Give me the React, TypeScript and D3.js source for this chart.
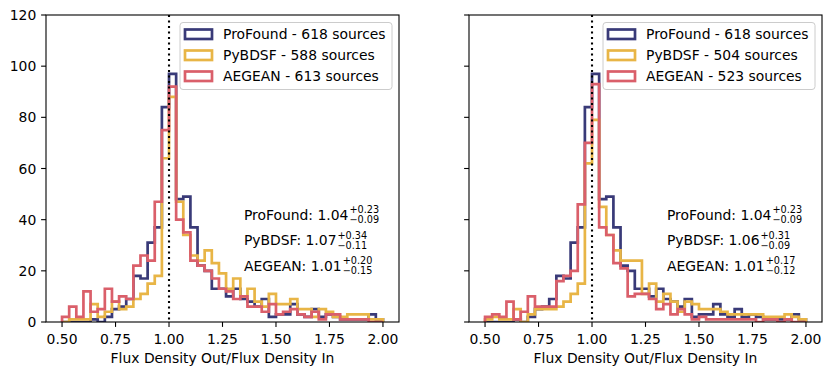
import React, { useEffect, useRef } from "react";
import * as d3 from "d3";

// histogram bins: 45 bins of width 1/30 from 0.5 to 2.0
const binStart = 0.5;
const binWidth = 1 / 30;
const xTicks = [0.5, 0.75, 1.0, 1.25, 1.5, 1.75, 2.0];
const yTicks = [0, 20, 40, 60, 80, 100, 120];

const finders = ["ProFound", "PyBDSF", "AEGEAN"];
const colors = ["#393a78", "#e8b546", "#da5f6a"];

// ProFound is the same catalogue in both panels
const profoundCounts = [0, 0, 0, 0, 1, 0, 2, 5, 6, 9, 18, 17, 31, 37, 84, 97, 48, 49, 37, 22, 20, 13, 13, 10, 13, 9, 8, 6, 9, 2, 3, 3, 7, 3, 2, 5, 2, 3, 2, 1, 1, 1, 1, 3, 1];
const pybdsfLeftCounts = [0, 1, 1, 1, 7, 2, 4, 8, 5, 6, 9, 11, 15, 18, 64, 88, 47, 34, 26, 24, 28, 23, 19, 13, 17, 10, 13, 8, 6, 11, 7, 7, 9, 5, 5, 2, 5, 4, 2, 2, 3, 3, 3, 1, 1];
const aegeanLeftCounts = [2, 6, 2, 12, 4, 5, 13, 8, 10, 9, 22, 26, 24, 47, 75, 92, 40, 35, 24, 22, 20, 17, 13, 12, 9, 10, 6, 6, 4, 7, 3, 4, 5, 3, 2, 4, 1, 3, 3, 1, 1, 1, 1, 0, 0];
const pybdsfRightCounts = [1, 2, 1, 1, 5, 0, 3, 5, 5, 5, 6, 8, 11, 15, 62, 79, 45, 34, 28, 24, 24, 24, 11, 15, 8, 11, 8, 4, 8, 7, 5, 5, 5, 4, 3, 3, 3, 3, 3, 2, 2, 2, 3, 2, 1];
const aegeanRightCounts = [2, 3, 2, 8, 1, 4, 10, 6, 6, 6, 16, 18, 20, 46, 70, 93, 37, 34, 23, 21, 10, 11, 11, 9, 5, 7, 3, 5, 3, 1, 2, 1, 1, 1, 1, 1, 1, 1, 0, 1, 1, 0, 1, 0, 0];

const leftTotals = [618, 588, 613];
const rightTotals = [618, 504, 523];

const leftMedians = ["1.04", "1.07", "1.01"];
const leftUpper = ["+0.23", "+0.34", "+0.20"];
const leftLower = ["\u22120.09", "\u22120.11", "\u22120.15"];
const rightMedians = ["1.04", "1.06", "1.01"];
const rightUpper = ["+0.23", "+0.31", "+0.17"];
const rightLower = ["\u22120.09", "\u22120.09", "\u22120.12"];

const W = 834;
const H = 376;
const top = 15;
const bottom = 322;
const font = "DejaVu Sans, sans-serif";

function drawPanel(svg, x0, x1, series, totals, medians, upper, lower, showYLabels, id) {
  const x = d3.scaleLinear().domain([0.425, 2.075]).range([x0, x1]);
  const y = d3.scaleLinear().domain([0, 120]).range([bottom, top]);

  const g = svg.append("g");
  g.append("clipPath").attr("id", id)
    .append("rect").attr("x", x0).attr("y", top).attr("width", x1 - x0).attr("height", bottom - top);

  const line = d3.line().x(d => x(d[0])).y(d => y(d[1]));
  const plot = g.append("g").attr("clip-path", `url(#${id})`);

  series.forEach((counts, k) => {
    const pts = [[binStart, 0]];
    counts.forEach((c, i) => {
      pts.push([binStart + i * binWidth, c]);
      pts.push([binStart + (i + 1) * binWidth, c]);
    });
    pts.push([binStart + counts.length * binWidth, 0]);
    plot.append("path").attr("d", line(pts))
      .attr("fill", "none").attr("stroke", colors[k]).attr("stroke-width", 2.7)
      .attr("stroke-linejoin", "miter");
  });

  // x = 1 reference line
  plot.append("line").attr("x1", x(1)).attr("x2", x(1)).attr("y1", top).attr("y2", bottom)
    .attr("stroke", "#000").attr("stroke-width", 2.1).attr("stroke-dasharray", "2.1 3.4");

  // stats text
  medians.forEach((m, k) => {
    const ty = y(40 - 10 * k);
    const t = g.append("text").attr("x", x(1.35)).attr("y", ty)
      .attr("font-family", font).attr("font-size", 13.9).attr("fill", "#000")
      .text(`${finders[k]}: ${m}`);
    const w = t.node().getComputedTextLength();
    g.append("text").attr("x", x(1.35) + w + 1).attr("y", ty - 6.6)
      .attr("font-family", font).attr("font-size", 9.7).text(upper[k]);
    g.append("text").attr("x", x(1.35) + w + 1).attr("y", ty + 3.4)
      .attr("font-family", font).attr("font-size", 9.7).text(lower[k]);
  });

  // spines
  g.append("rect").attr("x", x0).attr("y", top).attr("width", x1 - x0).attr("height", bottom - top)
    .attr("fill", "none").attr("stroke", "#000").attr("stroke-width", 1.1);

  // x axis
  xTicks.forEach(v => {
    g.append("line").attr("x1", x(v)).attr("x2", x(v)).attr("y1", bottom).attr("y2", bottom + 4.9)
      .attr("stroke", "#000").attr("stroke-width", 1.1);
    g.append("text").attr("x", x(v)).attr("y", bottom + 21.5)
      .attr("text-anchor", "middle").attr("font-family", font).attr("font-size", 13.9)
      .text(d3.format(".2f")(v));
  });
  g.append("text").attr("x", (x0 + x1) / 2).attr("y", 363)
    .attr("text-anchor", "middle").attr("font-family", font).attr("font-size", 13.9)
    .text("Flux Density Out/Flux Density In");

  // y axis
  yTicks.forEach(v => {
    g.append("line").attr("x1", x0 - 4.9).attr("x2", x0).attr("y1", y(v)).attr("y2", y(v))
      .attr("stroke", "#000").attr("stroke-width", 1.1);
    if (showYLabels) {
      g.append("text").attr("x", x0 - 9.7).attr("y", y(v) + 5)
        .attr("text-anchor", "end").attr("font-family", font).attr("font-size", 13.9)
        .text(v);
    }
  });

  // legend
  const lx1 = x1 - 7;
  const lx0 = lx1 - 212;
  g.append("rect").attr("x", lx0).attr("y", 22.5).attr("width", lx1 - lx0).attr("height", 67)
    .attr("rx", 3).attr("fill", "#fff").attr("fill-opacity", 0.8)
    .attr("stroke", "#cccccc").attr("stroke-width", 1);
  finders.forEach((f, k) => {
    const cy = 34 + k * 21;
    g.append("rect").attr("x", lx0 + 5).attr("y", cy - 4.5).attr("width", 27).attr("height", 9.5)
      .attr("fill", "none").attr("stroke", colors[k]).attr("stroke-width", 2.7);
    g.append("text").attr("x", lx0 + 43).attr("y", cy + 5)
      .attr("font-family", font).attr("font-size", 13.9)
      .text(`${f} - ${totals[k]} sources`);
  });
}

export default function App() {
  const ref = useRef(null);
  useEffect(() => {
    const svg = d3.select(ref.current);
    svg.selectAll("*").remove();
    drawPanel(svg, 46, 399, [profoundCounts, pybdsfLeftCounts, aegeanLeftCounts],
      leftTotals, leftMedians, leftUpper, leftLower, true, "clipL");
    drawPanel(svg, 469, 822, [profoundCounts, pybdsfRightCounts, aegeanRightCounts],
      rightTotals, rightMedians, rightUpper, rightLower, false, "clipR");
  }, []);
  return (
    <svg ref={ref} width={W} height={H}
      style={{ position: "absolute", left: 0, top: 0, background: "#fff" }} />
  );
}
